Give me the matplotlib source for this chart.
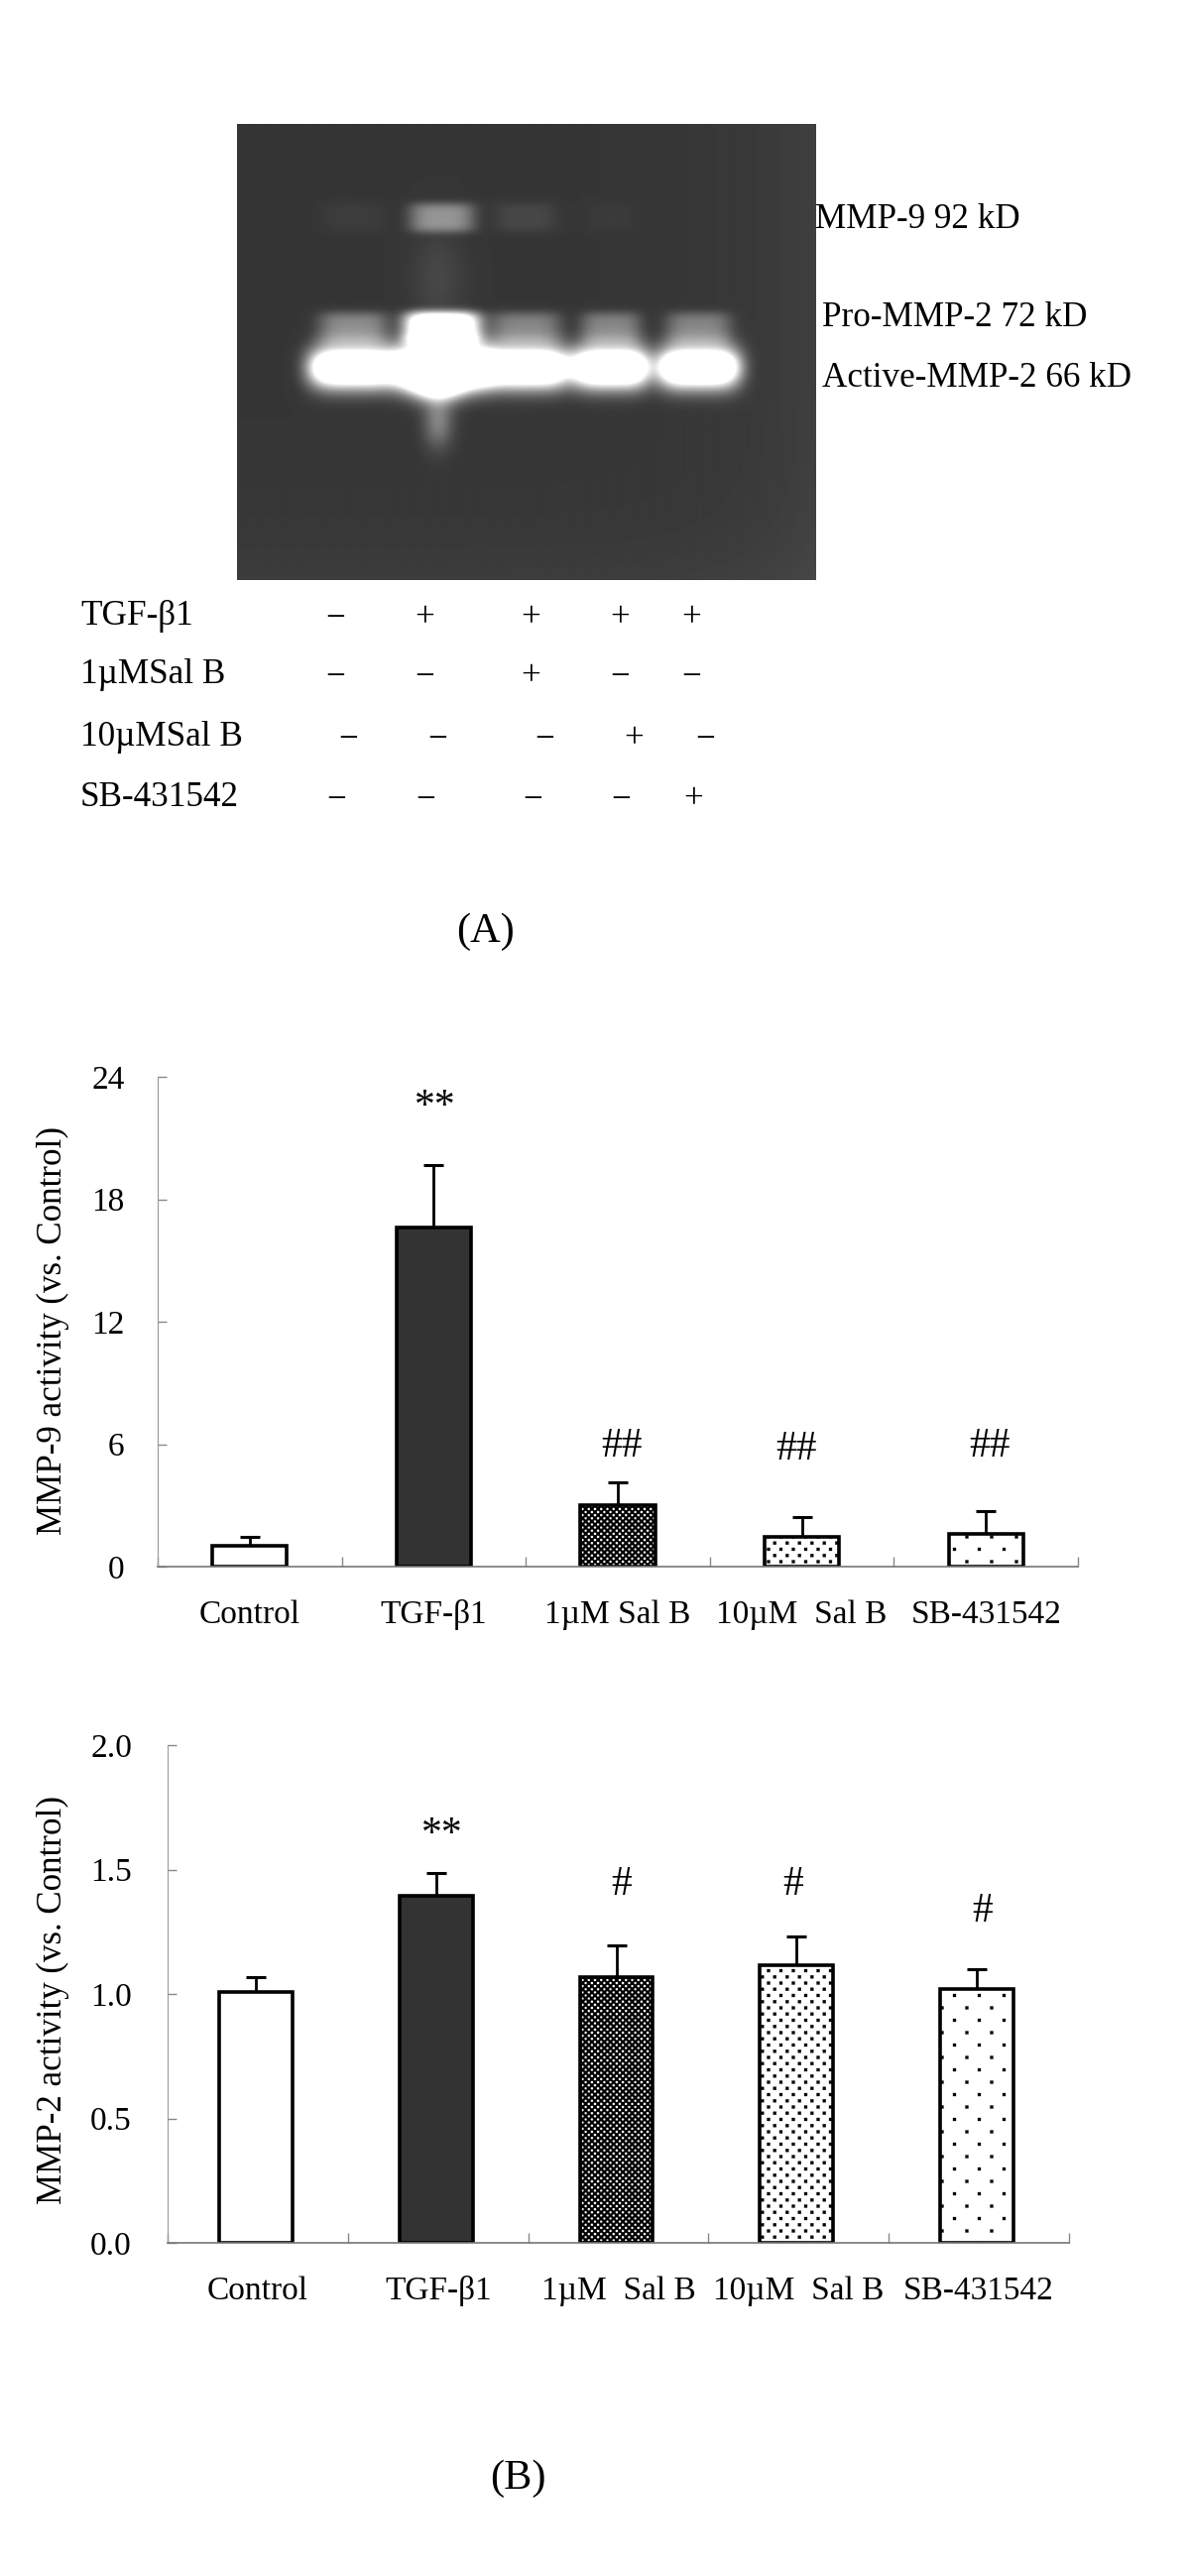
import numpy as np
import matplotlib
matplotlib.use("Agg")
from matplotlib import pyplot as plt
from matplotlib import hatch as mhatch
from matplotlib.path import Path

plt.rcParams['font.family'] = ['Liberation Serif', 'DejaVu Sans']
plt.rcParams['hatch.color'] = 'black'

W = 1200
H = 2598

# bar data
groups = ["Control", "TGF-\u03b21", "1\u00b5M Sal B", "10\u00b5M  Sal B", "SB-431542"]
groups2 = ["Control", "TGF-\u03b21", "1\u00b5M  Sal B", "10\u00b5M  Sal B", "SB-431542"]
mmp9_vals = [1.02, 16.6, 3.03, 1.45, 1.6]
mmp9_err = [0.43, 3.1, 1.11, 1.0, 1.13]
mmp9_yticks = [0, 6, 12, 18, 24]
mmp9_marks = ["", "**", "##", "##", "##"]
mmp9_mark_y = [0, 22.5, 5.9, 5.75, 5.9]
mmp9_mark_x = [0, 1.006, 2.02, 2.97, 4.02]
mmp2_vals = [1.007, 1.393, 1.068, 1.116, 1.021]
mmp2_err = [0.06, 0.094, 0.126, 0.114, 0.079]
mmp2_yticks = [0.0, 0.5, 1.0, 1.5, 2.0]
mmp2_marks = ["", "**", "#", "#", "#"]
mmp2_mark_y = [0, 1.64, 1.438, 1.438, 1.33]
mmp2_mark_x = [0, 1.025, 2.015, 2.97, 4.02]

# gel data (lane centre px, half width px, strength of each band)
lane_x = [356, 445, 529, 615, 703]
lane_w = [44, 47, 45, 38, 41]
mmp9_band = [0.03, 0.36, 0.07, 0.02, 0.0]
pro_band = [0.33, 1.3, 0.30, 0.30, 0.29]
active_band = [1.6, 2.2, 1.6, 1.6, 1.6]

# blot table
row_names = ["TGF-\u03b21", "1\u00b5MSal B", "10\u00b5MSal B", "SB-431542"]
row_signs = ["\u2212++++", "\u2212\u2212+\u2212\u2212", "\u2212\u2212\u2212+\u2212", "\u2212\u2212\u2212\u2212+"]
row_y = [621, 680, 743, 804]
row_x = [[338, 428, 535, 625, 697],
         [338, 428, 535, 625, 697],
         [351, 441, 549, 639, 711],
         [339, 429, 537, 626, 699]]

hatches = [None, None, '****', '**', '*']
hatch_lw = [1.0, 1.0, 0.2, 0.2, 0.2]
colors = ['white', '#333333', 'white', 'white', 'white']


# the excel fills are staggered squares: '*' sparse, '**' dense, '****' checker
class ExcelDots(mhatch.HatchPatternBase):
    def __init__(self, hatch, density):
        n = hatch.count('*')
        self.cols = 4 * n
        self.rows = 8 * n
        self.side = 0.019 if n == 4 else 0.015
        # one extra row and column so the tile edges join up
        self.num_vertices = 5 * (self.cols + 1) * (self.rows + 1) if n else 0

    def set_vertices_and_codes(self, vertices, codes):
        k = 0
        s = self.side
        square = np.array([[-s, -s], [s, -s], [s, s], [-s, s], [-s, -s]])
        for r in range(self.rows + 1):
            for c in range(self.cols + 1):
                cx = (c + 0.5 * (r % 2)) / self.cols
                cy = r / self.rows
                vertices[k:k + 5] = square + [cx, cy]
                codes[k:k + 5] = [Path.MOVETO, Path.LINETO, Path.LINETO, Path.LINETO, Path.CLOSEPOLY]
                k += 5


mhatch._hatch_types = [t for t in mhatch._hatch_types if t is not mhatch.Stars] + [ExcelDots]

fig = plt.figure(figsize=(W / 100, H / 100), dpi=100, facecolor='white')

# gel picture
gel_box = (239, 125, 822, 585)
gx, gy = np.meshgrid(np.arange(gel_box[0], gel_box[2]), np.arange(gel_box[1], gel_box[3]))
gel = 0.21 + 0.04 * ((gx - 239) / 583.0) ** 8 + 0.03 * ((gy - 125) / 460.0) ** 8
for i in range(5):
    x0 = lane_x[i]
    w = lane_w[i]
    gel += mmp9_band[i] * np.exp(-((gx - x0) / (w * 0.7)) ** 4 - ((gy - 219) / 15.0) ** 4)
    gel += pro_band[i] * np.exp(-((gx - x0) / (w * 0.8)) ** 4 - ((gy - 331) / 17.0) ** 4)
    gel += active_band[i] * np.exp(-((gx - x0) / w) ** 4 - ((gy - 370) / 20.0) ** 2)
# smear around the strong lane
gel += 0.07 * np.exp(-((gx - 441) / 26.0) ** 2 - ((gy - 280) / 50.0) ** 2)
gel += 1.0 * np.exp(-((gx - 441) / 26.0) ** 2 - ((gy - 385) / 18.0) ** 2)
gel += 0.3 * np.exp(-((gx - 441) / 15.0) ** 2 - ((gy - 425) / 26.0) ** 2)
ax_gel = fig.add_axes([239 / W, 1 - 585 / H, 583 / W, 460 / H])
ax_gel.imshow(np.clip(gel, 0, 1), cmap='gray', vmin=0, vmax=1, aspect='auto', interpolation='bilinear')
ax_gel.axis('off')

# overlay in pixels for the free text
ov = fig.add_axes([0, 0, 1, 1])
ov.set_xlim(0, W)
ov.set_ylim(H, 0)
ov.axis('off')
ov.patch.set_alpha(0)
fs = 25.3
ov.text(822, 221, "MMP-9 92 kD", fontsize=fs, va='center', ha='left')
ov.text(829, 320, "Pro-MMP-2 72 kD", fontsize=fs, va='center', ha='left')
ov.text(829, 381, "Active-MMP-2 66 kD", fontsize=fs, va='center', ha='left')
for i in range(4):
    ov.text(81, row_y[i], row_names[i], fontsize=fs, va='center', ha='left')
    for j in range(5):
        ov.text(row_x[i][j], row_y[i] + 3, row_signs[i][j], fontsize=fs, va='center', ha='center')
ov.text(490, 940, "(A)", fontsize=30.5, va='center', ha='center')
ov.text(522, 2500, "(B)", fontsize=30.5, va='center', ha='center')
ov.text(53, 1342, "MMP-9 activity (vs. Control)", fontsize=25.2, rotation=90, va='center', ha='center')
ov.text(53, 2017, "MMP-2 activity (vs. Control)", fontsize=25.2, rotation=90, va='center', ha='center')


def bars(box, vals, errs, labels, yticks, ytl, marks, mark_x, mark_y, ymax, shift, ypad):
    x0, y0, x1, y1 = box
    ax = fig.add_axes([x0 / W, 1 - y1 / H, (x1 - x0) / W, (y1 - y0) / H])
    ax.patch.set_alpha(0)
    xs = np.arange(5)
    ax.errorbar(xs + shift, vals, yerr=[np.zeros(5), errs], fmt='none', ecolor='black', elinewidth=2,
                capsize=7.5, capthick=2.2, zorder=2)
    for i in range(5):
        plt.rcParams['hatch.linewidth'] = hatch_lw[i]
        ax.bar(xs[i] + shift, vals[i], width=0.405, color=colors[i], edgecolor='black', linewidth=2.6,
               hatch=hatches[i], zorder=3)
        ax.text(mark_x[i], mark_y[i], marks[i], fontsize=30, ha='center', va='center')
    ax.set_xlim(-0.5, 4.5)
    ax.set_ylim(0, ymax)
    ax.set_yticks(yticks)
    ax.set_yticklabels(ytl, fontsize=24)
    ax.set_xticks(xs)
    ax.set_xticklabels(labels, fontsize=24)
    ax.set_xticks(np.arange(-0.5, 5), minor=True)
    ax.tick_params(axis='x', which='major', length=0, pad=24)
    ax.tick_params(axis='x', which='minor', direction='in', length=7, color='#888888', width=1)
    ax.tick_params(axis='y', direction='in', length=6.5, color='#888888', width=1, pad=ypad)
    ax.spines['top'].set_visible(False)
    ax.spines['right'].set_visible(False)
    ax.spines['left'].set_color('#999999')
    ax.spines['bottom'].set_color('#777777')
    ax.spines['bottom'].set_linewidth(1.2)
    ax.spines['bottom'].set_zorder(5)
    return ax


bars((159, 1086, 1087, 1580), mmp9_vals, mmp9_err, groups, mmp9_yticks,
     [str(v) for v in mmp9_yticks], mmp9_marks, mmp9_mark_x, mmp9_mark_y, 24, 0.0, 24)
bars((169, 1760, 1078, 2262), mmp2_vals, mmp2_err, groups2, mmp2_yticks,
     ["%.1f" % v for v in mmp2_yticks], mmp2_marks, mmp2_mark_x, mmp2_mark_y, 2.0, -0.011, 26)

fig.savefig("out.png", dpi=100)
